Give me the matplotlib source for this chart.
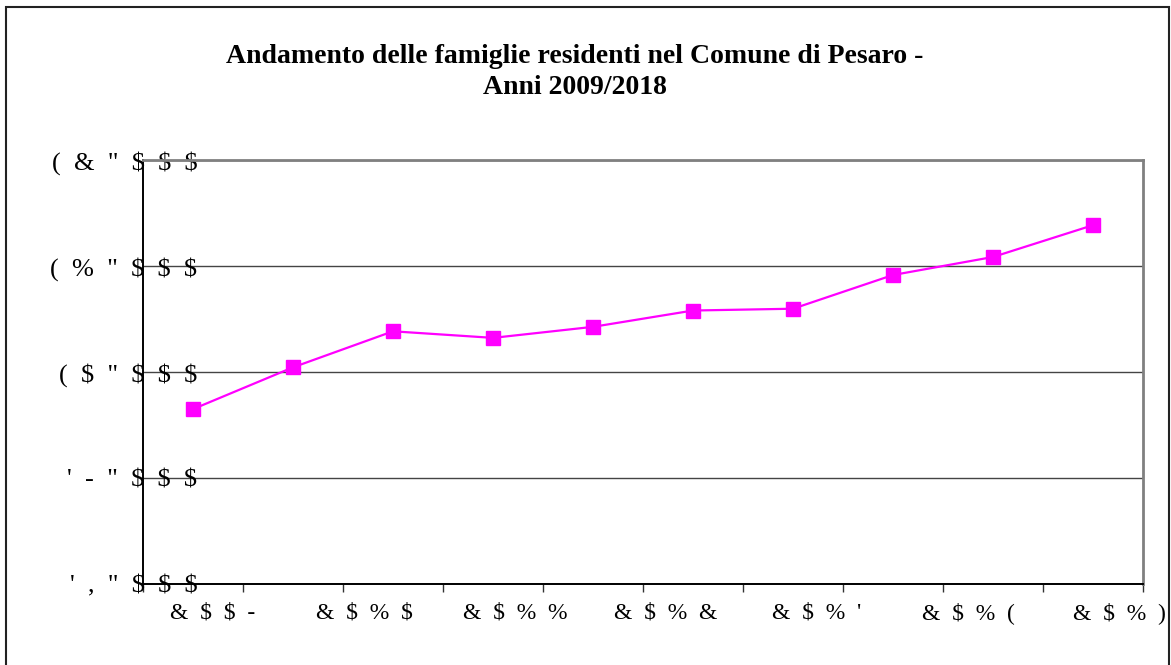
import matplotlib.pyplot as plt
from matplotlib.patches import Rectangle

# famiglie residenti, 2009-2018
years = [2009, 2010, 2011, 2012, 2013, 2014, 2015, 2016, 2017, 2018]
families = [39650, 40044, 40384, 40322, 40426, 40580, 40597, 40915, 41085, 41385]

# tick labels as they appear in the source (broken font encoding)
y_ticks = [38000, 39000, 40000, 41000, 42000]
y_labels = ["' , \" $ $ $", "' - \" $ $ $", "( $ \" $ $ $", "( % \" $ $ $", "( & \" $ $ $"]
x_labels = ["& $ $ -", "& $ % $", "& $ % %", "& $ % &", "& $ % '", "& $ % (", "& $ % )"]

title = 'Andamento delle famiglie residenti nel Comune di Pesaro -\nAnni 2009/2018'

plt.rcParams['font.family'] = ['Liberation Serif', 'DejaVu Serif']
plt.rcParams['text.parse_math'] = False

fig = plt.figure(figsize=(11.71, 6.65), dpi=100)
ax = fig.add_axes([143 / 1171, 1 - 584 / 665, 1000 / 1171, 424 / 665])

x = list(range(len(years)))
ax.plot(x, families, color='#ff00ff', linewidth=1.6, marker='s', markersize=10,
        markeredgecolor='#ff00ff', markerfacecolor='#ff00ff', zorder=3)

ax.set_xlim(-0.5, len(years) - 0.5)
ax.set_ylim(y_ticks[0], y_ticks[-1])

# y axis: spaced-out labels sitting over the axis line
ax.set_yticks(y_ticks)
ax.set_yticklabels(['  '.join(lab.split(' ')) for lab in y_labels])
ax.tick_params(axis='y', length=0, pad=-39, labelsize=19)
for lab in ax.get_yticklabels():
    lab.set_va('center_baseline')
ax.grid(axis='y', color='#444444', linewidth=1.0)

# x axis: tick marks at category boundaries, labels spread wider
ax.set_xticks([i - 0.5 for i in range(len(years) + 1)])
ax.set_xticklabels([])
ax.tick_params(axis='x', which='major', length=6, width=1, color='#333333', direction='out')
lab_pos = [0.2 + 1.51 * i for i in range(len(x_labels))]
ax.set_xticks(lab_pos, ['  '.join(lab.split(' ')) for lab in x_labels], minor=True)
ax.tick_params(axis='x', which='minor', length=0, pad=13, labelsize=17)

for side in ['top', 'right']:
    ax.spines[side].set_color('#808080')
    ax.spines[side].set_linewidth(2)
for side in ['left', 'bottom']:
    ax.spines[side].set_color('black')
    ax.spines[side].set_linewidth(1.4)

fig.text(0.491, 1 - 72 / 665, title, ha='center', va='center', fontsize=20,
         fontweight='bold', linespacing=1.35)

# outer chart border (bottom edge runs off the image)
fig.patches.append(Rectangle((6 / 1171, -0.02), 1163 / 1171, 1.02 - 7 / 665,
                             transform=fig.transFigure, fill=False,
                             edgecolor='#222222', linewidth=1.5))

fig.savefig('out.png', dpi=100, facecolor='white')
